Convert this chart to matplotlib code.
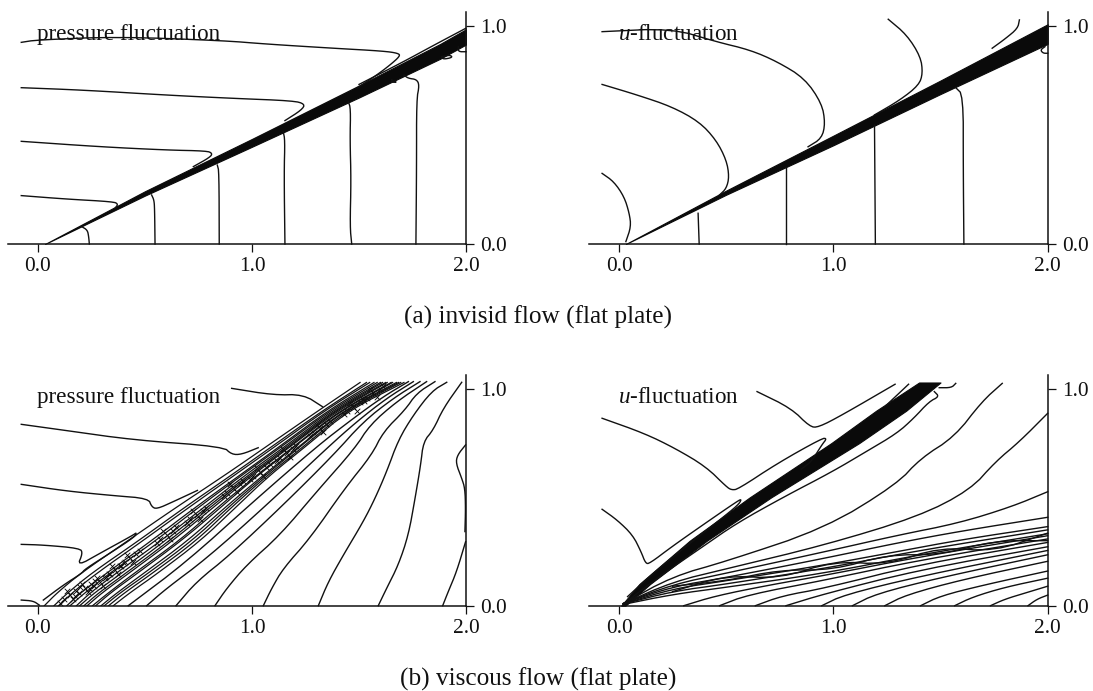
import numpy as np
import matplotlib
matplotlib.use('Agg')
import matplotlib.pyplot as plt

plt.rcParams['font.family'] = ['Liberation Serif', 'DejaVu Serif']
plt.rcParams['mathtext.fontset'] = 'custom'
plt.rcParams['mathtext.it'] = 'Liberation Serif:italic'
plt.rcParams['mathtext.rm'] = 'Liberation Serif'

W, H = 1093, 691
INK = '#111111'

x_ticks = [0.0, 1.0, 2.0]
y_ticks = [0.0, 1.0]
x_tick_labels = ['0.0', '1.0', '2.0']
y_tick_labels = ['0.0', '1.0']
captions = ['(a) invisid flow (flat plate)', '(b) viscous flow (flat plate)']

# (a) inviscid, pressure
inv_p_lines = [
    [(-0.078, 0.925), (-0.006, 0.936), (0.368, 0.951), (0.866, 0.933), (1.069, 0.917), (1.380, 0.898),
     (1.614, 0.885), (1.684, 0.875), (1.692, 0.862), (1.645, 0.821), (1.583, 0.775), (1.489, 0.714)],
    [(-0.078, 0.717), (0.212, 0.706), (0.601, 0.683), (0.913, 0.668), (1.193, 0.657), (1.248, 0.642),
     (1.232, 0.615), (1.154, 0.566)],
    [(-0.078, 0.471), (0.290, 0.446), (0.601, 0.431), (0.788, 0.427), (0.815, 0.416), (0.804, 0.398),
     (0.726, 0.355)],
    [(-0.078, 0.222), (0.134, 0.206), (0.352, 0.194), (0.375, 0.183), (0.360, 0.164)],
    [(0.204, 0.080), (0.231, 0.064), (0.237, 0.034), (0.240, 0.0)],
    [(0.531, 0.225), (0.542, 0.202), (0.545, 0.164), (0.547, 0.0)],
    [(0.838, 0.362), (0.846, 0.332), (0.847, 0.0)],
    [(1.146, 0.515), (1.154, 0.477), (1.150, 0.324), (1.154, 0.0)],
    [(1.450, 0.653), (1.461, 0.622), (1.458, 0.477), (1.463, 0.294), (1.458, 0.080), (1.466, 0.0)],
    [(1.710, 0.775), (1.730, 0.760), (1.769, 0.755), (1.782, 0.729), (1.769, 0.661), (1.769, 0.355),
     (1.766, 0.0)],
    [(1.886, 0.859), (1.925, 0.867), (1.938, 0.856), (1.894, 0.847), (1.886, 0.859)],
    [(1.964, 0.905), (1.964, 0.882), (2.0, 0.882)],
    [(1.653, 0.752), (1.679, 0.742), (1.653, 0.742), (1.653, 0.752)],
    [(1.5, 0.732), (1.7, 0.832), (1.85, 0.912), (2.0, 0.990)],
]
inv_p_shock_x = [0.033, 0.5, 1.0, 1.5, 1.88, 2.0]
inv_p_shock_hi = [0.0, 0.242, 0.482, 0.727, 0.918, 0.985]
inv_p_shock_lo = [0.0, 0.222, 0.446, 0.672, 0.850, 0.915]

# (a) inviscid, u
inv_u_lines = [
    [(-0.079, 0.324), (-0.024, 0.286), (0.024, 0.217), (0.048, 0.141), (0.056, 0.080), (0.032, 0.011)],
    [(-0.079, 0.732), (0.087, 0.683), (0.246, 0.630), (0.374, 0.561), (0.453, 0.477), (0.501, 0.385),
     (0.514, 0.309), (0.501, 0.255), (0.469, 0.225)],
    [(-0.079, 0.974), (0.246, 0.989), (0.453, 0.928), (0.612, 0.890), (0.739, 0.836), (0.866, 0.760),
     (0.946, 0.645), (0.962, 0.554), (0.946, 0.485), (0.882, 0.446)],
    [(1.256, 1.031), (1.343, 0.959), (1.407, 0.859), (1.417, 0.783), (1.399, 0.729), (1.312, 0.661),
     (1.192, 0.592)],
    [(1.868, 1.028), (1.860, 0.989), (1.804, 0.943), (1.741, 0.898)],
    [(0.369, 0.141), (0.374, 0.0)],
    [(0.779, 0.347), (0.779, 0.0)],
    [(1.192, 0.546), (1.196, 0.0)],
    [(1.569, 0.719), (1.606, 0.683), (1.606, 0.355), (1.609, 0.0)],
    [(1.987, 0.905), (1.966, 0.890), (1.979, 0.875), (2.0, 0.875)],
]
inv_u_shock_x = [0.032, 0.5, 1.0, 1.5, 2.0]
inv_u_shock_hi = [0.0, 0.245, 0.497, 0.750, 1.008]
inv_u_shock_lo = [0.0, 0.226, 0.453, 0.688, 0.918]

# (b) viscous, pressure
vis_p_lines = [
    [(-0.078, 0.026), (-0.022, 0.022), (0.006, 0.003)],
    [(-0.078, 0.283), (0.025, 0.280), (0.196, 0.265), (0.209, 0.242), (0.184, 0.183), (0.290, 0.242),
     (0.445, 0.326), (0.461, 0.338), (0.453, 0.318), (0.336, 0.242), (0.220, 0.169), (0.204, 0.149),
     (0.118, 0.095), (0.025, 0.026)],
    [(-0.078, 0.560), (0.134, 0.529), (0.352, 0.508), (0.516, 0.495), (0.531, 0.457), (0.555, 0.446),
     (0.632, 0.480), (0.745, 0.532)],
    [(-0.078, 0.837), (0.134, 0.808), (0.445, 0.765), (0.866, 0.734), (0.905, 0.698), (0.951, 0.698),
     (1.029, 0.729)],
    [(0.905, 1.003), (1.100, 0.972), (1.240, 0.975), (1.330, 0.918)],
    [(1.891, 0.0), (1.917, 0.065), (1.956, 0.157), (1.998, 0.295)],
    [(1.590, 0.0), (1.629, 0.080), (1.684, 0.188), (1.731, 0.326), (1.762, 0.495), (1.788, 0.649),
     (1.801, 0.757), (1.847, 0.811), (1.894, 0.911), (1.980, 1.031)],
    [(1.310, 0.0), (1.357, 0.111), (1.427, 0.234), (1.520, 0.388), (1.575, 0.495), (1.629, 0.618),
     (1.684, 0.765), (1.754, 0.880), (1.840, 0.990), (1.910, 1.031)],
    [(1.053, 0.0), (1.092, 0.080), (1.146, 0.172), (1.271, 0.311), (1.435, 0.543), (1.559, 0.695),
     (1.614, 0.803), (1.715, 0.903), (1.769, 0.980), (1.855, 1.034)],
    [(0.827, 0.0), (0.882, 0.080), (0.975, 0.188), (1.131, 0.326), (1.302, 0.526), (1.481, 0.726),
     (1.551, 0.834), (1.676, 0.942), (1.816, 1.034)],
    [(0.645, 0.0), (0.741, 0.111), (0.897, 0.234), (1.146, 0.465), (1.380, 0.695), (1.520, 0.849),
     (1.660, 0.957), (1.785, 1.034)],
    [(0.508, 0.0), (0.601, 0.080), (0.788, 0.218), (1.069, 0.465), (1.349, 0.726), (1.489, 0.849),
     (1.629, 0.957), (1.754, 1.034)],
    [(0.422, 0.0), (0.695, 0.203), (1.006, 0.480), (1.302, 0.734), (1.474, 0.865), (1.614, 0.965),
     (1.731, 1.034)],
    [(1.998, 0.742), (1.960, 0.695), (1.953, 0.657), (1.980, 0.588), (1.995, 0.541), (1.998, 0.449),
     (1.995, 0.342)],
]
# x of each dense band contour at the heights in vis_p_band_y
vis_p_band_y = [0.0, 0.06, 0.15, 0.3, 0.45, 0.6, 0.75, 0.9, 1.03]
vis_p_band_x = [
    [0.030, 0.090, 0.200, 0.420, 0.640, 0.870, 1.090, 1.310, 1.505],
    [0.075, 0.140, 0.250, 0.470, 0.680, 0.900, 1.115, 1.330, 1.535],
    [0.100, 0.160, 0.275, 0.490, 0.700, 0.915, 1.130, 1.340, 1.550],
    [0.135, 0.200, 0.320, 0.530, 0.730, 0.940, 1.150, 1.355, 1.570],
    [0.150, 0.220, 0.335, 0.550, 0.745, 0.950, 1.160, 1.365, 1.585],
    [0.180, 0.245, 0.365, 0.575, 0.770, 0.965, 1.175, 1.375, 1.600],
    [0.195, 0.265, 0.390, 0.595, 0.785, 0.980, 1.185, 1.385, 1.610],
    [0.215, 0.285, 0.410, 0.615, 0.800, 0.990, 1.195, 1.390, 1.625],
    [0.230, 0.300, 0.425, 0.630, 0.815, 1.000, 1.200, 1.400, 1.632],
    [0.255, 0.330, 0.450, 0.660, 0.835, 1.020, 1.215, 1.410, 1.650],
    [0.270, 0.340, 0.465, 0.670, 0.850, 1.025, 1.220, 1.415, 1.657],
    [0.295, 0.370, 0.495, 0.700, 0.870, 1.050, 1.240, 1.425, 1.675],
    [0.310, 0.385, 0.515, 0.720, 0.885, 1.060, 1.245, 1.430, 1.685],
    [0.330, 0.405, 0.535, 0.740, 0.900, 1.070, 1.260, 1.440, 1.695],
    [0.352, 0.430, 0.560, 0.760, 0.920, 1.080, 1.270, 1.450, 1.710],
]
# centres of the dark cross-hatched knots in the band
vis_p_dark_x = [0.150, 0.220, 0.290, 0.360, 0.430, 0.601, 0.741, 0.913, 1.037, 1.162, 1.318, 1.474, 1.567]
vis_p_dark_y = [0.049, 0.080, 0.111, 0.165, 0.218, 0.326, 0.418, 0.542, 0.618, 0.703, 0.818, 0.918, 0.980]

# (b) viscous, u
vis_u_lines = [
    [(-0.079, 0.445), (-0.008, 0.395), (0.064, 0.326), (0.103, 0.249), (0.124, 0.195), (0.143, 0.195),
     (0.246, 0.272), (0.390, 0.372), (0.556, 0.485), (0.572, 0.491), (0.556, 0.465), (0.469, 0.395),
     (0.310, 0.272), (0.167, 0.157), (0.040, 0.042)],
    [(-0.079, 0.865), (0.119, 0.795), (0.262, 0.726), (0.405, 0.642), (0.501, 0.549), (0.525, 0.534),
     (0.556, 0.538), (0.739, 0.657), (0.946, 0.772), (0.970, 0.772), (0.946, 0.742), (0.898, 0.665),
     (0.850, 0.630)],
    [(0.644, 0.988), (0.803, 0.911), (0.890, 0.826), (0.930, 0.823), (1.041, 0.880), (1.288, 1.022)],
    [(1.351, 1.022), (1.248, 0.926)],
    [(1.494, 1.006), (1.551, 1.006), (1.571, 1.026)],
    [(1.471, 0.988), (1.494, 0.965), (1.447, 0.942), (1.375, 0.865), (1.296, 0.795), (1.153, 0.711),
     (0.994, 0.618), (0.771, 0.503), (0.548, 0.380), (0.390, 0.272), (0.199, 0.142), (0.024, 0.011)],
    [(1.788, 1.026), (1.693, 0.942), (1.566, 0.780), (1.407, 0.680), (1.295, 0.560), (0.960, 0.357),
     (0.500, 0.205), (0.250, 0.135), (0.020, 0.010)],
    [(2.0, 0.888), (1.868, 0.757), (1.757, 0.665), (1.638, 0.534), (1.396, 0.411), (0.960, 0.280),
     (0.500, 0.170), (0.250, 0.110), (0.020, 0.010)],
    [(2.0, 0.526), (1.832, 0.457), (1.584, 0.381), (1.300, 0.325), (0.960, 0.249), (0.500, 0.150),
     (0.250, 0.098), (0.020, 0.010)],
    [(2.0, 0.408), (1.600, 0.345), (1.300, 0.290), (0.960, 0.219), (0.500, 0.130), (0.250, 0.088),
     (0.020, 0.010)],
    [(2.0, 0.365), (1.600, 0.305), (1.300, 0.250), (0.960, 0.188), (0.500, 0.115), (0.250, 0.078),
     (0.020, 0.008)],
    [(2.0, 0.350), (1.400, 0.255), (0.960, 0.172), (0.500, 0.100), (0.250, 0.066), (0.020, 0.008)],
    [(2.0, 0.332), (1.400, 0.235), (0.960, 0.150), (0.500, 0.085), (0.250, 0.052), (0.020, 0.006)],
    [(2.0, 0.323), (1.400, 0.225), (0.960, 0.140), (0.700, 0.095), (0.450, 0.045), (0.302, 0.0)],
    [(2.0, 0.308), (1.400, 0.210), (0.960, 0.118), (0.600, 0.050), (0.469, 0.0)],
    [(2.0, 0.292), (1.400, 0.190), (0.960, 0.081), (0.760, 0.045), (0.636, 0.0)],
    [(2.0, 0.272), (1.400, 0.165), (0.960, 0.055), (0.779, 0.0)],
    [(2.0, 0.255), (1.400, 0.135), (1.050, 0.050), (0.946, 0.0)],
    [(2.0, 0.235), (1.500, 0.130), (1.200, 0.055), (1.089, 0.0)],
    [(2.0, 0.205), (1.600, 0.120), (1.340, 0.050), (1.240, 0.0)],
    [(2.0, 0.160), (1.700, 0.095), (1.500, 0.045), (1.407, 0.0)],
    [(2.0, 0.127), (1.800, 0.085), (1.650, 0.040), (1.566, 0.0)],
    [(2.0, 0.090), (1.900, 0.060), (1.800, 0.030), (1.733, 0.0)],
    [(2.0, 0.049), (1.950, 0.030), (1.908, 0.0)],
    [(0.25, 0.090), (0.50, 0.115), (0.75, 0.165), (1.00, 0.165), (1.25, 0.235), (1.50, 0.235), (1.75, 0.300),
     (2.00, 0.300)],
    [(0.25, 0.065), (0.50, 0.140), (0.75, 0.125), (1.00, 0.205), (1.25, 0.190), (1.50, 0.270), (1.75, 0.250),
     (2.00, 0.335)],
]
vis_u_shock_y = [0.0, 0.1, 0.3, 0.5, 0.75, 0.9, 1.03]
vis_u_shock_left = [0.010, 0.095, 0.330, 0.610, 0.990, 1.200, 1.400]
vis_u_shock_right = [0.030, 0.145, 0.410, 0.710, 1.120, 1.340, 1.500]

# small x strokes around each knot centre
knot_dx = [0.0, 0.03, -0.03, 0.015, -0.015, 0.045, -0.045]
knot_dy = [0.0, 0.02, -0.02, -0.018, 0.018, 0.035, -0.035]


def round_corners(pts, passes=2):
    # drawing only: cut the corners so hand read polylines look like contour curves
    pts = np.asarray(pts, dtype=float)
    if len(pts) < 3:
        return pts
    for _ in range(passes):
        q = 0.75 * pts[:-1] + 0.25 * pts[1:]
        r = 0.25 * pts[:-1] + 0.75 * pts[1:]
        mid = np.empty((2 * len(q), 2))
        mid[0::2] = q
        mid[1::2] = r
        pts = np.vstack([pts[0], mid, pts[-1]])
    return pts


def setup_axes(fig, left, x2, y0, y_top, ppu_y):
    # pixel box from the picture, left end of the axis is x = -0.14
    bottom = 1 - y0 / H
    height = (y0 - y_top) / H
    ax = fig.add_axes([left / W, bottom, (x2 - left) / W, height])
    ax.set_xlim(-0.14, 2.0)
    ax.set_ylim(0, (y0 - y_top) / ppu_y)
    for side in ['top', 'left']:
        ax.spines[side].set_visible(False)
    for side in ['bottom', 'right']:
        ax.spines[side].set_linewidth(1.1)
        ax.spines[side].set_color(INK)
    ax.yaxis.tick_right()
    ax.set_xticks(x_ticks, x_tick_labels)
    ax.set_yticks(y_ticks, y_tick_labels)
    ax.tick_params(axis='both', length=5.5, width=0.9, color=INK, labelsize=15.4, labelcolor=INK)
    ax.tick_params(axis='x', pad=4)
    ax.tick_params(axis='y', pad=5)
    ax.patch.set_alpha(0)
    return ax


def draw_lines(ax, lines, lw=1.0):
    for line in lines:
        pts = round_corners(line)
        ax.plot(pts[:, 0], pts[:, 1], color=INK, lw=lw, clip_on=False, solid_joinstyle='round')


fig = plt.figure(figsize=(W / 100, H / 100), dpi=100, facecolor='white')

ax1 = setup_axes(fig, 8, 466, 244, 12, 218)
draw_lines(ax1, inv_p_lines)
ax1.fill_between(inv_p_shock_x, inv_p_shock_lo, inv_p_shock_hi, color='#0a0a0a', lw=0.8)
ax1.text(-0.005, 0.959, 'pressure fluctuation', fontsize=16.7, va='center', color=INK)

ax2 = setup_axes(fig, 589, 1047.7, 244, 12, 218)
draw_lines(ax2, inv_u_lines)
ax2.fill_between(inv_u_shock_x, inv_u_shock_lo, inv_u_shock_hi, color='#0a0a0a', lw=0.8)
ax2.text(-0.005, 0.959, r'$\mathit{u}$-fluctuation', fontsize=16.7, va='center', color=INK)

ax3 = setup_axes(fig, 8, 466, 605.7, 375, 216.7)
draw_lines(ax3, vis_p_lines)
for row in vis_p_band_x:
    pts = round_corners(np.column_stack([row, vis_p_band_y]))
    ax3.plot(pts[:, 0], pts[:, 1], color=INK, lw=0.9)
for dx, dy in zip(knot_dx, knot_dy):
    ax3.scatter(np.array(vis_p_dark_x) + dx, np.array(vis_p_dark_y) + dy, s=16, marker='x', c='black',
                linewidths=0.6)
ax3.text(-0.005, 0.963, 'pressure fluctuation', fontsize=16.7, va='center', color=INK)

ax4 = setup_axes(fig, 589, 1047.7, 605.7, 375, 216.7)
draw_lines(ax4, vis_u_lines)
ax4.fill_betweenx(vis_u_shock_y, vis_u_shock_left, vis_u_shock_right, color='#0a0a0a', lw=0.8)
ax4.text(-0.005, 0.963, r'$\mathit{u}$-fluctuation', fontsize=16.7, va='center', color=INK)

fig.text(538 / W, 1 - 317 / H, captions[0], fontsize=18.2, ha='center', va='center', color=INK)
fig.text(538 / W, 1 - 679 / H, captions[1], fontsize=18.2, ha='center', va='center', color=INK)

fig.savefig('out.png', dpi=100)
